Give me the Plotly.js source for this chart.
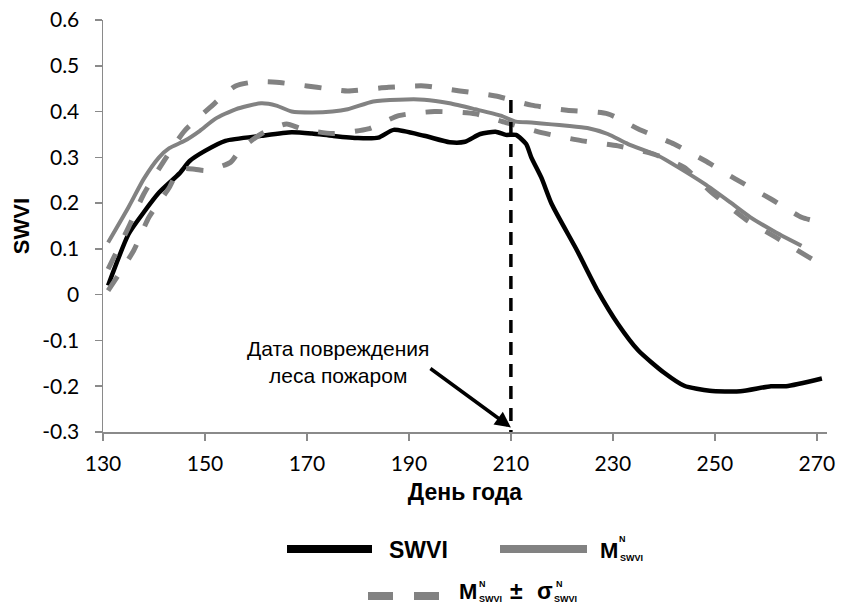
<!DOCTYPE html>
<html>
<head>
<meta charset="utf-8">
<script src="https://cdn.plot.ly/plotly-3.0.1.min.js"></script>
<style>html,body{margin:0;padding:0;background:#fff;}#chart{width:843px;height:605px;}</style>
</head>
<body>
<div id="chart"></div>
<script>
// ---- data ----
const swviDays = [131,135,138,141,145,147,150,154,161,167,171,175,180,184,187,193,198,201,204,207,209,211,213,214,216,218,223,227,231,235,240,244,249,255,261,264,271];
const swviVals = [0.02,0.132,0.18,0.223,0.265,0.292,0.314,0.336,0.347,0.355,0.352,0.347,0.342,0.343,0.36,0.347,0.333,0.334,0.351,0.356,0.349,0.349,0.329,0.30,0.255,0.198,0.096,0.009,-0.064,-0.122,-0.17,-0.199,-0.21,-0.211,-0.2,-0.2,-0.183];

const meanDays = [131,135,138,141,143,146,149,152,156,161,164,167,171,175,178,183,188,193,198,203,208,211,214,218,221,225,229,233,239,243,248,253,257,262,267];
const meanVals = [0.114,0.191,0.253,0.30,0.32,0.336,0.358,0.384,0.405,0.418,0.413,0.40,0.398,0.40,0.405,0.422,0.426,0.426,0.418,0.405,0.391,0.378,0.376,0.372,0.369,0.364,0.351,0.329,0.303,0.277,0.242,0.202,0.169,0.136,0.107];

const upperDays = [131,135,138,142,146,151,156,160,164,170,174,178,186,193,200,207,214,221,229,235,242,248,254,261,267,270];
const upperVals = [0.056,0.147,0.22,0.293,0.358,0.409,0.456,0.465,0.464,0.456,0.45,0.445,0.453,0.456,0.445,0.434,0.414,0.403,0.395,0.362,0.329,0.293,0.253,0.209,0.169,0.16];

const lowerDays = [131,136,139,143,145,148,150,155,157,161,166,169,175,182,188,195,203,209,216,224,231,238,244,249,256,262,269];
const lowerVals = [0.009,0.096,0.169,0.234,0.274,0.274,0.271,0.289,0.318,0.351,0.373,0.362,0.352,0.362,0.391,0.40,0.395,0.376,0.354,0.336,0.325,0.307,0.278,0.227,0.165,0.125,0.078];

const fireDay = 210;
const fireLineVals = [0.425, -0.3];

const xTickVals = [130,150,170,190,210,230,250,270];
const yTickVals = [-0.3,-0.2,-0.1,0,0.1,0.2,0.3,0.4,0.5,0.6];
const yTickText = ['-0.3','-0.2','-0.1','0','0.1','0.2','0.3','0.4','0.5','0.6'];

const xTitle = 'День года';
const yTitle = 'SWVI';
const fireLabel = 'Дата повреждения<br>леса пожаром';
const legendSwvi = 'SWVI';

// ---- styles ----
const BLACK = '#000000';
const GRAY = '#828282';
const AXIS = '#8a8a8a';

const M = {l:103, r:16, t:20, b:173};
const W = 843, H = 605;
const pw = W - M.l - M.r, ph = H - M.t - M.b;
const px = v => (v - M.l) / pw;
const py = v => (H - M.b - v) / ph;

const traces = [
  {x: swviDays, y: swviVals, mode:'lines', line:{color:BLACK, width:4.5, shape:'spline', smoothing:0.6}, name:'SWVI'},
  {x: meanDays, y: meanVals, mode:'lines', line:{color:GRAY, width:4, shape:'spline', smoothing:0.6}, name:'M'},
  {x: upperDays, y: upperVals, mode:'lines', line:{color:GRAY, width:5, dash:'17px,20px', shape:'spline', smoothing:0.6}, name:'M+s'},
  {x: lowerDays, y: lowerVals, mode:'lines', line:{color:GRAY, width:5, dash:'17px,20px', shape:'spline', smoothing:0.6}, name:'M-s'},
  {x: [fireDay, fireDay], y: fireLineVals, mode:'lines', line:{color:BLACK, width:3.5, dash:'13px,9px'}, name:'fire'}
];

const FAM = 'Liberation Sans, Arial, sans-serif';
const legFont = {family:FAM, size:23, color:'#000'};
const mFont = {family:FAM, size:22, color:'#000'};
const subFont = {family:FAM, size:9, color:'#000'};
const supFont = {family:FAM, size:9, color:'#000'};

function txt(x, y, text, font, anchor, vanchor) {
  return {xref:'paper', yref:'paper', x:px(x), y:py(y), text:text, showarrow:false,
          xanchor:anchor||'left', yanchor:vanchor||'middle', font:font, borderpad:0};
}

const annotations = [
  {xref:'x', yref:'y', x:176, y:-0.148, text:fireLabel, showarrow:false,
   font:{family:FAM, size:21, color:'#000'}, align:'center'},
  {xref:'x', yref:'y', x:fireDay, y:-0.29, text:'', showarrow:true, arrowhead:2, arrowsize:0.9,
   arrowwidth:3.5, arrowcolor:BLACK, axref:'pixel', ayref:'pixel', ax:-82, ay:-60},
  txt(388, 550, '<b>'+legendSwvi+'</b>', legFont),
  txt(599, 550, '<b>M</b>', mFont),
  txt(618, 539, '<b>N</b>', supFont),
  txt(619, 558, '<b>SWVI</b>', subFont),
  txt(458, 605, '<b>M</b>', mFont, 'left', 'bottom'),
  txt(478, 590, '<b>N</b>', supFont, 'left', 'bottom'),
  txt(478, 605, '<b>SWVI</b>', subFont, 'left', 'bottom'),
  txt(516, 605, '<b>±</b>', legFont, 'center', 'bottom'),
  txt(536, 605, '<b>σ</b>', legFont, 'left', 'bottom'),
  txt(555, 590, '<b>N</b>', supFont, 'left', 'bottom'),
  txt(553, 605, '<b>SWVI</b>', subFont, 'left', 'bottom')
];

const shapes = [
  {type:'line', xref:'paper', yref:'paper', x0:px(287), x1:px(372), y0:py(549), y1:py(549), line:{color:BLACK, width:8}},
  {type:'line', xref:'paper', yref:'paper', x0:px(500), x1:px(587), y0:py(549), y1:py(549), line:{color:GRAY, width:8}},
  {type:'line', xref:'paper', yref:'paper', x0:px(368), x1:px(439), y0:py(596), y1:py(596), line:{color:GRAY, width:8, dash:'25px,21px'}}
];

const layout = {
  width: W, height: H,
  margin: M,
  paper_bgcolor:'#fff', plot_bgcolor:'#fff',
  showlegend:false,
  font:{family:'Lato, sans-serif', color:'#000'},
  xaxis:{
    range:[130, 272], tickvals:xTickVals, ticktext:xTickVals.map(String),
    showline:true, linecolor:AXIS, linewidth:1.5, ticks:'outside', ticklen:7, tickwidth:1.5, tickcolor:AXIS,
    showgrid:false, zeroline:false, tickfont:{family:'Lato, sans-serif', size:21, color:'#000'},
    ticklabelstandoff:5, automargin:false,
    title:{text:'<b>'+xTitle+'</b>', font:{family:FAM, size:23, color:'#000'}, standoff:10}
  },
  yaxis:{
    range:[-0.3, 0.6], tickvals:yTickVals, ticktext:yTickText,
    showline:true, linecolor:AXIS, linewidth:1.5, ticks:'outside', ticklen:7, tickwidth:1.5, tickcolor:AXIS,
    showgrid:false, zeroline:false, tickfont:{family:'Lato, sans-serif', size:21, color:'#000'},
    ticklabelstandoff:11, automargin:false,
    title:{text:'<b>'+yTitle+'</b>', font:{family:FAM, size:22, color:'#000'}, standoff:6}
  },
  annotations: annotations,
  shapes: shapes
};

Plotly.newPlot('chart', traces, layout, {staticPlot:true, displayModeBar:false});
</script>
</body>
</html>
